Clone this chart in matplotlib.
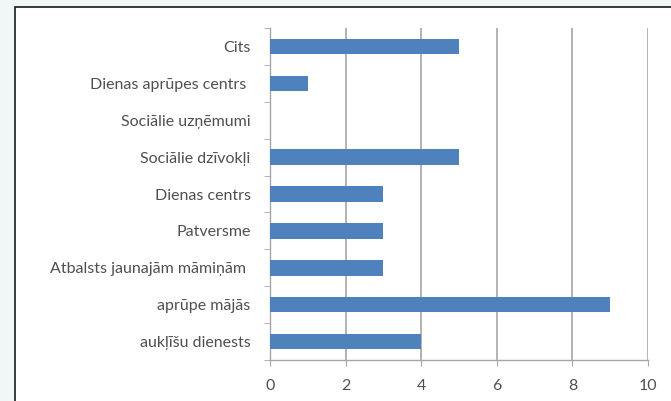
import matplotlib.pyplot as plt
from matplotlib.patches import Rectangle
import numpy as np

# kategorijas no apakšas uz augšu
kategorijas = ["aukļīšu dienests", "aprūpe mājās", "Atbalsts jaunajām māmiņām ",
               "Patversme", "Dienas centrs", "Sociālie dzīvokļi",
               "Sociālie uzņēmumi", "Dienas aprūpes centrs ", "Cits"]
vertibas = [4, 9, 3, 3, 3, 5, 0, 1, 5]
x_ticks = [0, 2, 4, 6, 8, 10]

plt.rcParams['font.family'] = ['Lato', 'DejaVu Sans']

fig = plt.figure(figsize=(6.71, 4.01), dpi=100)
fig.patch.set_facecolor('#f1f6f6')

# balts rāmis ar melnu malu
fig.patches.append(Rectangle((15 / 671, -0.05), 1.0, 1 - 7 / 401 + 0.05,
                             transform=fig.transFigure, facecolor='white',
                             edgecolor='#1a1a1a', linewidth=1.2, zorder=-5))

ax = fig.add_axes([270 / 671, 1 - 360 / 401, 378 / 671, 332 / 401])
ax.set_facecolor('none')
ax.set_zorder(2)

y = np.arange(len(kategorijas))
ax.barh(y, vertibas, height=0.42, color='#4f81bd', zorder=3)

ax.set_xlim(0, 10)
ax.set_ylim(-0.5, len(kategorijas) - 0.5)
ax.set_xticks(x_ticks)
ax.set_yticks(y)
ax.set_yticklabels(kategorijas)
ax.set_yticks(np.arange(-0.5, len(kategorijas), 1), minor=True)

ax.grid(axis='x', color='#a6a6a6', linewidth=1.2, zorder=1)
for s in ['top', 'right']:
    ax.spines[s].set_visible(False)
for s in ['left', 'bottom']:
    ax.spines[s].set_color('#a6a6a6')
    ax.spines[s].set_linewidth(1.0)

ax.tick_params(axis='y', which='major', length=0, pad=14, labelsize=11.5, labelcolor='#505050')
ax.tick_params(axis='y', which='minor', length=4, color='#a6a6a6')
ax.tick_params(axis='x', length=4, color='#a6a6a6', labelsize=11.5, labelcolor='#505050', pad=10)

fig.savefig('out.png', dpi=100, facecolor=fig.get_facecolor())
